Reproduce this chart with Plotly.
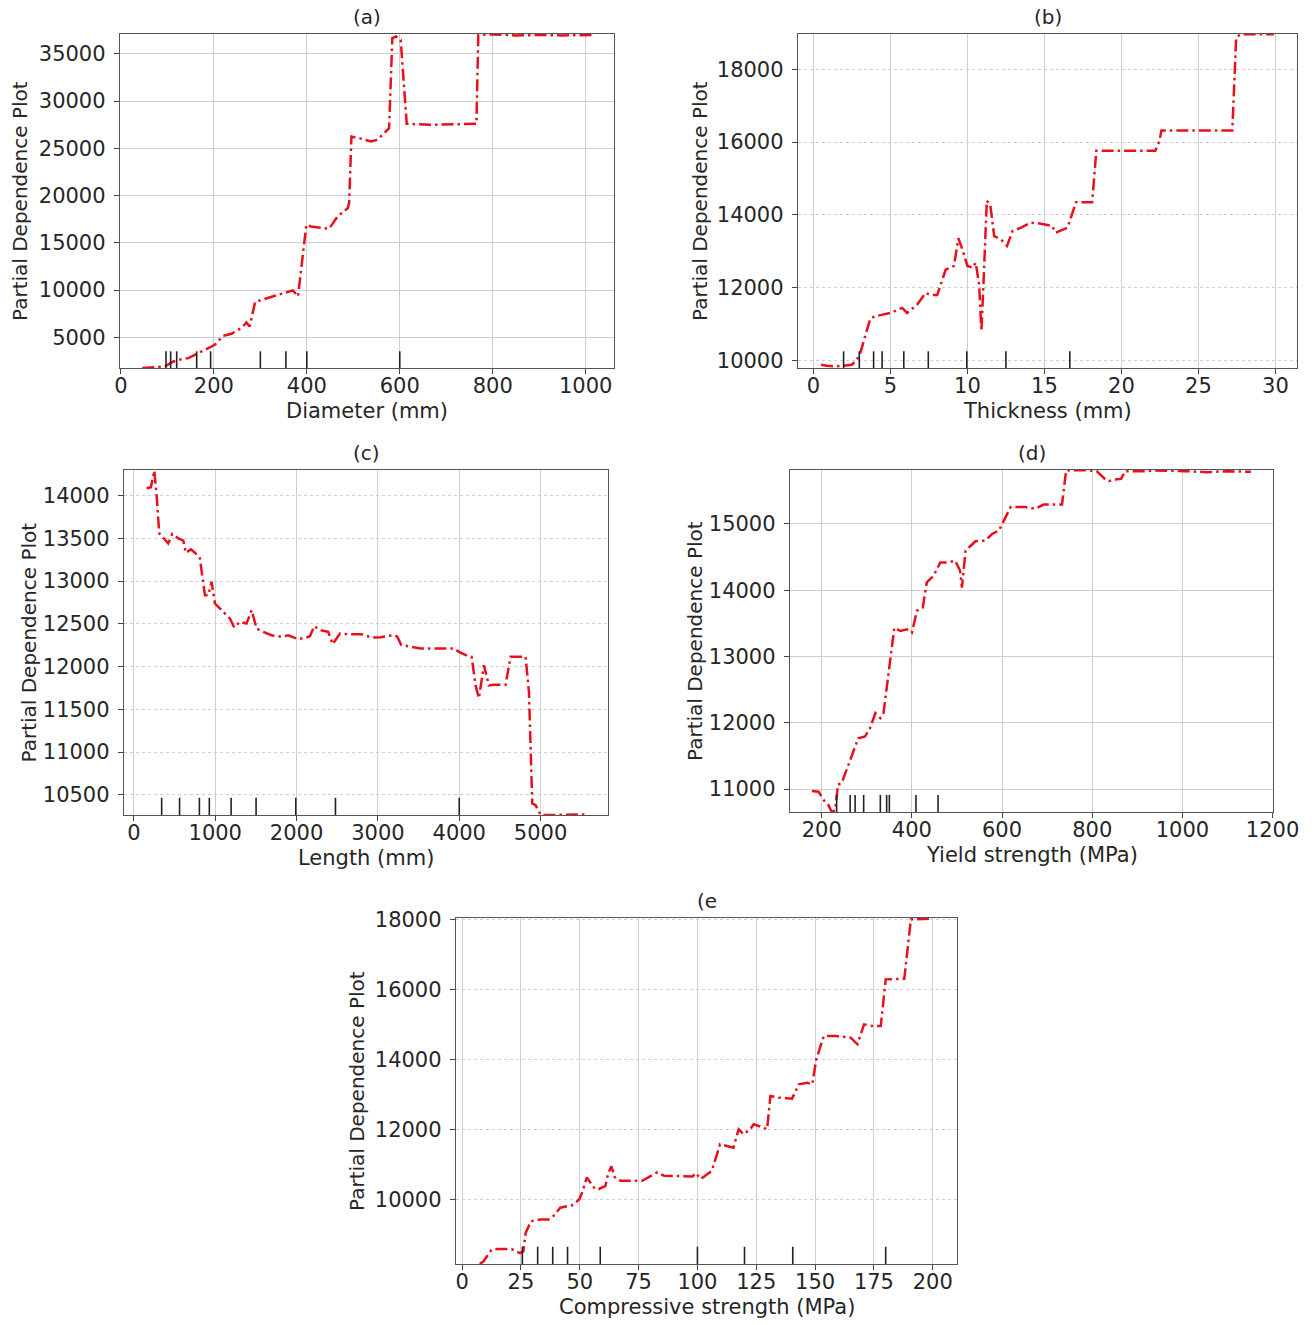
import plotly.graph_objects as go

W, H = 1315, 1325

# ---- (a) Diameter ----
dia_x = [46, 74, 95, 113, 124, 145, 166, 188, 202, 220, 238, 259, 270, 277, 289, 299,
         338, 370, 381, 399, 409, 448, 466, 488, 491, 496, 513, 538, 552, 577, 584, 592,
         602, 615, 666, 720, 765, 769, 800, 850, 900, 950, 1015]
dia_y = [1760, 1850, 1930, 2450, 2630, 2800, 3330, 3860, 4220, 5170, 5380, 5980, 6580, 6160, 8800, 8910,
         9510, 9970, 9330, 16910, 16740, 16490, 17790, 18670, 19200, 26250, 26080, 25730, 25900, 27140, 36660, 36830,
         36480, 27600, 27490, 27550, 27600, 37000, 37050, 36950, 37000, 36950, 37000]
dia_deciles = [97, 107, 120, 163, 193, 300, 355, 400, 600]

# ---- (b) Thickness ----
thk_x = [0.5, 0.87, 1.52, 2.5, 2.83, 3.04, 3.7, 4.02, 5.0, 5.76, 6.09, 6.74, 7.28, 7.6, 8.04, 8.59,
         9.13, 9.41, 9.67, 10.0, 10.33, 10.54, 10.76, 10.91, 11.04, 11.26, 11.48, 11.74, 12.17, 12.57,
         12.93, 13.48, 14.13, 14.78, 15.5, 15.73, 16.5, 16.8, 17.05, 18.1, 18.37, 19.3, 22.2, 22.47,
         22.6, 27.2, 27.45, 27.75, 29.9]
thk_y = [9890, 9860, 9845, 9890, 10030, 10210, 11160, 11220, 11310, 11450, 11310, 11540, 11860, 11800, 11800, 12500,
         12600, 13360, 13060, 12600, 12550, 12690, 12090, 10810, 12090, 14390, 14290, 13420, 13330, 13150,
         13560, 13650, 13790, 13760, 13700, 13510, 13650, 14015, 14350, 14350, 15760, 15760, 15760, 16030,
         16320, 16320, 18870, 18960, 18960]
thk_deciles = [1.96, 2.98, 3.91, 4.46, 5.87, 7.46, 9.96, 12.5, 16.65]

# ---- (c) Length ----
len_x = [156, 209, 250, 279, 311, 381, 422, 471, 545, 607, 639, 701, 750, 811, 852, 873, 914, 955,
         996, 1037, 1098, 1180, 1234, 1303, 1385, 1447, 1508, 1590, 1693, 1816, 1898, 2000, 2082,
         2164, 2217, 2287, 2389, 2443, 2533, 2635, 2799, 2922, 3033, 3197, 3238, 3287, 3340, 3525,
         3934, 3996, 4098, 4152, 4201, 4242, 4303, 4365, 4426, 4570, 4631, 4816, 4857, 4898, 4939,
         5000, 5123, 5560]
len_y = [14086, 14098, 14293, 14008, 13559, 13488, 13441, 13551, 13500, 13473, 13332, 13371, 13332, 13266, 12934, 12836, 12836, 12992,
         12738, 12699, 12641, 12563, 12457, 12523, 12504, 12660, 12445, 12406, 12367, 12348, 12367, 12328, 12328,
         12355, 12473, 12426, 12406, 12262, 12387, 12379, 12379, 12340, 12343, 12370, 12350, 12252, 12244, 12213,
         12213, 12173, 12126, 12114, 11780, 11630, 12016, 11780, 11787, 11787, 12114, 12114, 11700, 10400, 10380,
         10264, 10264, 10270]
len_deciles = [341, 561, 805, 927, 1195, 1502, 1990, 2478, 4000]

# ---- (d) Yield strength ----
ys_x = [178, 193, 200, 207, 215, 222, 230, 236, 244, 256, 265, 281, 296, 307, 319, 330, 337, 352, 361,
        374, 389, 400, 411, 424, 433, 448, 463, 478, 496, 507, 511, 519, 530, 541, 563, 578, 593,
        607, 619, 652, 674, 692, 733, 742, 783, 810, 828, 837, 846, 864, 873, 918, 936, 1008, 1054,
        1099, 1152]
ys_y = [10970, 10960, 10884, 10808, 10757, 10657, 10682, 11070, 11086, 11313, 11465, 11768, 11793, 11919, 12146, 12071, 12146, 12929, 13434,
        13384, 13409, 13359, 13687, 13737, 14116, 14217, 14419, 14419, 14444, 14293, 14040, 14596, 14672, 14737, 14747, 14848, 14899,
        15101, 15253, 15253, 15227, 15291, 15291, 15805, 15812, 15794, 15678, 15643, 15668, 15678, 15794, 15794, 15805, 15794, 15779,
        15794, 15784]
ys_deciles = [233, 263, 274, 293, 330, 344, 350, 409, 458]

# ---- (e) Compressive strength ----
cs_x = [7.5, 9, 12.5, 15.4, 21, 24.6, 26, 27, 29.3, 33.1, 36.7, 38.8, 41.7, 44.5, 46.7, 48, 49.8, 51,
        53, 54.5, 56.6, 58, 60.9, 62, 63.4, 65.1, 67.3, 76.5, 80, 82.9, 85.8, 92.2, 97.9, 99.3, 101.4,
        106.1, 109.6, 112.5, 115.3, 117.5, 119.6, 122.4, 123.9, 128.1, 129.6, 131, 134.5, 140.2, 143.1,
        146.6, 148.8, 150.5, 153.7, 158.7, 165.1, 168, 170.8, 174.4, 177.9, 180, 185.7, 187.9, 190.7,
        199]
cs_y = [8154, 8220, 8558, 8577, 8577, 8462, 8510, 9040, 9375, 9423, 9423, 9520, 9760, 9790, 9827, 9885, 10000, 10192,
        10625, 10480, 10288, 10288, 10385, 10720, 10942, 10596, 10529, 10529, 10673, 10769, 10673, 10654, 10654, 10750, 10577,
        10810, 11571, 11524, 11476, 12000, 11857, 12000, 12143, 12048, 12000, 12952, 12905, 12876, 13286,
        13333, 13286, 14000, 14667, 14667, 14619, 14429, 15000, 14952, 14952, 16286, 16305, 16305, 18000,
        18019]
cs_deciles = [25.6, 32.1, 38.5, 44.8, 58.7, 100, 120, 140.5, 180]

# panel layout: frame box in pixels (left, right, top, bottom), axis ranges, ticks, labels
panels = [
    dict(x=dia_x, y=dia_y, dec=dia_deciles, box=(120, 614, 34, 368),
         xr=[-2, 1061], yr=[1760, 37100], xt=list(range(0, 1001, 200)), yt=list(range(5000, 35001, 5000)),
         hgrid="solid", title="(a)", xlabel="Diameter (mm)", ylx=20),
    dict(x=thk_x, y=thk_y, dec=thk_deciles, box=(798, 1297, 34, 368),
         xr=[-1, 31.4], yr=[9800, 18965], xt=list(range(0, 31, 5)), yt=list(range(10000, 18001, 2000)),
         hgrid="dot", title="(b)", xlabel="Thickness (mm)", ylx=700),
    dict(x=len_x, y=len_y, dec=len_deciles, box=(124, 608, 470, 815),
         xr=[-122, 5829], yr=[10264, 14300], xt=list(range(0, 5001, 1000)), yt=list(range(10500, 14001, 500)),
         hgrid="dot", title="(c)", xlabel="Length (mm)", ylx=28),
    dict(x=ys_x, y=ys_y, dec=ys_deciles, box=(790, 1273, 470, 812),
         xr=[129.6, 1201], yr=[10655, 15812], xt=list(range(200, 1201, 200)), yt=list(range(11000, 15001, 1000)),
         hgrid="solid", title="(d)", xlabel="Yield strength (MPa)", ylx=695),
    dict(x=cs_x, y=cs_y, dec=cs_deciles, box=(456, 957, 918, 1264),
         xr=[-2.6, 210.3], yr=[8150, 18040], xt=list(range(0, 201, 25)), yt=list(range(10000, 18001, 2000)),
         hgrid="dot", title="(e", xlabel="Compressive strength (MPa)", ylx=357),
]

FONT = "DejaVu Sans"
TXT = "#262626"
fig = go.Figure()
annotations = []
shapes = []

for i, p in enumerate(panels):
    n = "" if i == 0 else str(i + 1)
    l, r, t, b = p["box"]
    xdom = [l / W, r / W]
    ydom = [1 - b / H, 1 - t / H]
    fig.add_trace(go.Scatter(
        x=p["x"], y=p["y"], mode="lines", xaxis="x" + n, yaxis="y" + n,
        line=dict(color="#e8101c", width=2.5, dash="12px,4px,2.5px,4px"),
        showlegend=False, hoverinfo="skip"))
    common = dict(showline=True, linecolor="#555555", linewidth=1.4, mirror=True,
                  ticks="outside", ticklen=5, tickwidth=1.2, tickcolor="#444444",
                  tickfont=dict(family=FONT, size=21, color=TXT), automargin=False,
                  showgrid=True, gridcolor="#cfcfcf", gridwidth=1, zeroline=False,
                  tickformat="d")
    xa = dict(common, domain=xdom, range=p["xr"], tickvals=p["xt"], anchor="y" + n,
              griddash="solid", ticklabelstandoff=-6)
    ya = dict(common, domain=ydom, range=p["yr"], tickvals=p["yt"], anchor="x" + n,
              griddash=p["hgrid"], ticklabelstandoff=4)
    fig.layout["xaxis" + n] = xa
    fig.layout["yaxis" + n] = ya

    # decile markers along the bottom of each panel
    for d in p["dec"]:
        shapes.append(dict(type="line", xref="x" + n, yref="y" + n + " domain",
                           x0=d, x1=d, y0=0, y1=0.05,
                           line=dict(color="#222222", width=1.6)))

    cx = (l + r) / 2
    annotations.append(dict(text=p["title"], x=cx / W, y=1 - (t - 17) / H, xref="paper", yref="paper",
                            showarrow=False, xanchor="center", yanchor="middle",
                            font=dict(family=FONT, size=20, color=TXT)))
    annotations.append(dict(text=p["xlabel"], x=cx / W, y=1 - (b + 43) / H, xref="paper", yref="paper",
                            showarrow=False, xanchor="center", yanchor="middle",
                            font=dict(family=FONT, size=21, color=TXT)))
    annotations.append(dict(text="Partial Dependence Plot", x=p["ylx"] / W, y=1 - ((t + b) / 2) / H,
                            xref="paper", yref="paper", showarrow=False, textangle=-90,
                            xanchor="center", yanchor="middle",
                            font=dict(family=FONT, size=20, color=TXT)))

fig.update_layout(width=W, height=H, margin=dict(l=0, r=0, t=0, b=0),
                  paper_bgcolor="white", plot_bgcolor="white",
                  annotations=annotations, shapes=shapes, showlegend=False)

fig.write_html("out.html")
